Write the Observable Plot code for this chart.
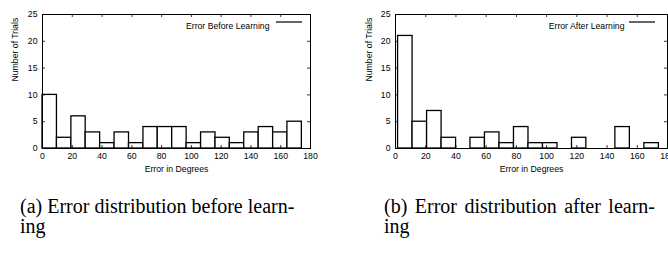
<!DOCTYPE html>
<html>
<head>
<meta charset="utf-8">
<script src="https://cdn.jsdelivr.net/npm/d3@7"></script>
<script src="https://cdn.jsdelivr.net/npm/@observablehq/plot@0.6"></script>
<style>
  html, body { margin: 0; padding: 0; background: white; }
  #root { position: relative; width: 668px; height: 254px; overflow: hidden; background: white; }
  .panel { position: absolute; top: 0; }
  .panel svg { overflow: visible; max-width: none; }
  .cap { position: absolute; font-family: "Liberation Serif", "Times New Roman", serif; font-size: 20px; line-height: 20px; color: black; white-space: nowrap; }
  .just { text-align: justify; text-align-last: justify; white-space: normal; }
</style>
</head>
<body>
<div id="root">
  <div class="panel" id="pa" style="left:0px"></div>
  <div class="panel" id="pb" style="left:334px"></div>
  <div class="cap" id="ca" style="left:20px; top:196px;"></div>
  <div class="cap" id="cb" style="left:384px; top:196px; width:271px;"></div>
</div>
<script>
// Data
const xTicks = [0, 20, 40, 60, 80, 100, 120, 140, 160, 180];
const yTicks = [0, 5, 10, 15, 20, 25];
const edgesBefore = [0, 9.7, 19.4, 29.0, 38.7, 48.4, 58.1, 67.8, 77.4, 87.1, 96.8, 106.5, 116.2, 125.8, 135.5, 145.2, 154.9, 164.5, 174.2];
const countsBefore = [10, 2, 6, 3, 1, 3, 1, 4, 4, 4, 1, 3, 2, 1, 3, 4, 3, 5];
const edgesAfter = [1.7, 11.3, 20.9, 30.5, 40.1, 49.6, 59.2, 68.8, 78.4, 88.0, 97.6, 107.2, 116.8, 126.3, 135.9, 145.5, 155.1, 164.7, 174.3];
const countsAfter = [21, 5, 7, 2, 0, 2, 3, 1, 4, 1, 1, 0, 2, 0, 0, 4, 0, 1];
const xLabel = "Error in Degrees";
const yLabel = "Number of Trials";
const legendBefore = "Error Before Learning";
const legendAfter = "Error After Learning";
const captionA = ["(a) Error distribution before learn-", "ing"];
const captionB = ["(b) Error distribution after learn-", "ing"];

function makeBins(edges, counts) {
  return counts.map((c, i) => ({x1: edges[i], x2: edges[i + 1], y: c}));
}

function histogram(bins, legend, o) {
  const W = 334, H = 180, mt = 14, mb = 32;
  const fw = W - o.ml - o.mr, fh = H - mt - mb;
  const tk = 3;
  const legendLine = (index, scales, values, dims) => {
    const g = d3.create("svg:g");
    const xr = dims.width - dims.marginRight;
    g.append("line")
      .attr("x1", xr - o.lineStart).attr("x2", xr - o.lineEnd)
      .attr("y1", dims.marginTop + 8).attr("y2", dims.marginTop + 8)
      .attr("stroke", "black").attr("stroke-width", 1.2);
    return g.node();
  };
  return Plot.plot({
    width: W, height: H,
    marginLeft: o.ml, marginRight: o.mr, marginTop: mt, marginBottom: mb,
    style: {fontFamily: "'Liberation Sans', Arial, Helvetica, sans-serif", fontSize: "8.7px", color: "black", background: "white", overflow: "visible"},
    x: {domain: [0, 180]},
    y: {domain: [0, 25]},
    marks: [
      Plot.rectY(bins, {x1: "x1", x2: "x2", y: "y", fill: "white", stroke: "black", strokeWidth: 1.3}),
      Plot.frame({stroke: "black", strokeWidth: 1}),
      Plot.tickX(xTicks, {x: d => d, insetTop: fh - tk, stroke: "black", strokeWidth: 0.8}),
      Plot.tickX(xTicks, {x: d => d, insetBottom: fh - tk, stroke: "black", strokeWidth: 0.8}),
      Plot.tickY(yTicks, {y: d => d, insetRight: fw - tk, stroke: "black", strokeWidth: 0.8}),
      Plot.tickY(yTicks, {y: d => d, insetLeft: fw - tk, stroke: "black", strokeWidth: 0.8}),
      Plot.axisX(xTicks, {tickSize: 0, tickPadding: 4, label: null, fill: "black"}),
      Plot.axisY(yTicks, {tickSize: 0, tickPadding: 5, label: null, fill: "black"}),
      Plot.text([xLabel], {frameAnchor: "bottom", dy: 23, fill: "black"}),
      Plot.text([yLabel], {frameAnchor: "left", rotate: -90, dx: -o.ylab, fill: "black"}),
      Plot.text([legend], {frameAnchor: "top-right", textAnchor: "end", dx: -o.textEnd, dy: 8, fill: "black"}),
      legendLine
    ]
  });
}

document.getElementById("pa").appendChild(
  histogram(makeBins(edgesBefore, countsBefore), legendBefore, {ml: 42, mr: 24, ylab: 27, textEnd: 41, lineStart: 34, lineEnd: 8})
);
document.getElementById("pb").appendChild(
  histogram(makeBins(edgesAfter, countsAfter), legendAfter, {ml: 61, mr: 1, ylab: 26, textEnd: 43, lineStart: 38, lineEnd: 12})
);

function caption(el, lines, justify) {
  const l1 = document.createElement("div");
  l1.textContent = lines[0];
  if (justify) l1.className = "just";
  const l2 = document.createElement("div");
  l2.textContent = lines[1];
  el.appendChild(l1); el.appendChild(l2);
}
caption(document.getElementById("ca"), captionA, false);
caption(document.getElementById("cb"), captionB, true);
</script>
</body>
</html>
